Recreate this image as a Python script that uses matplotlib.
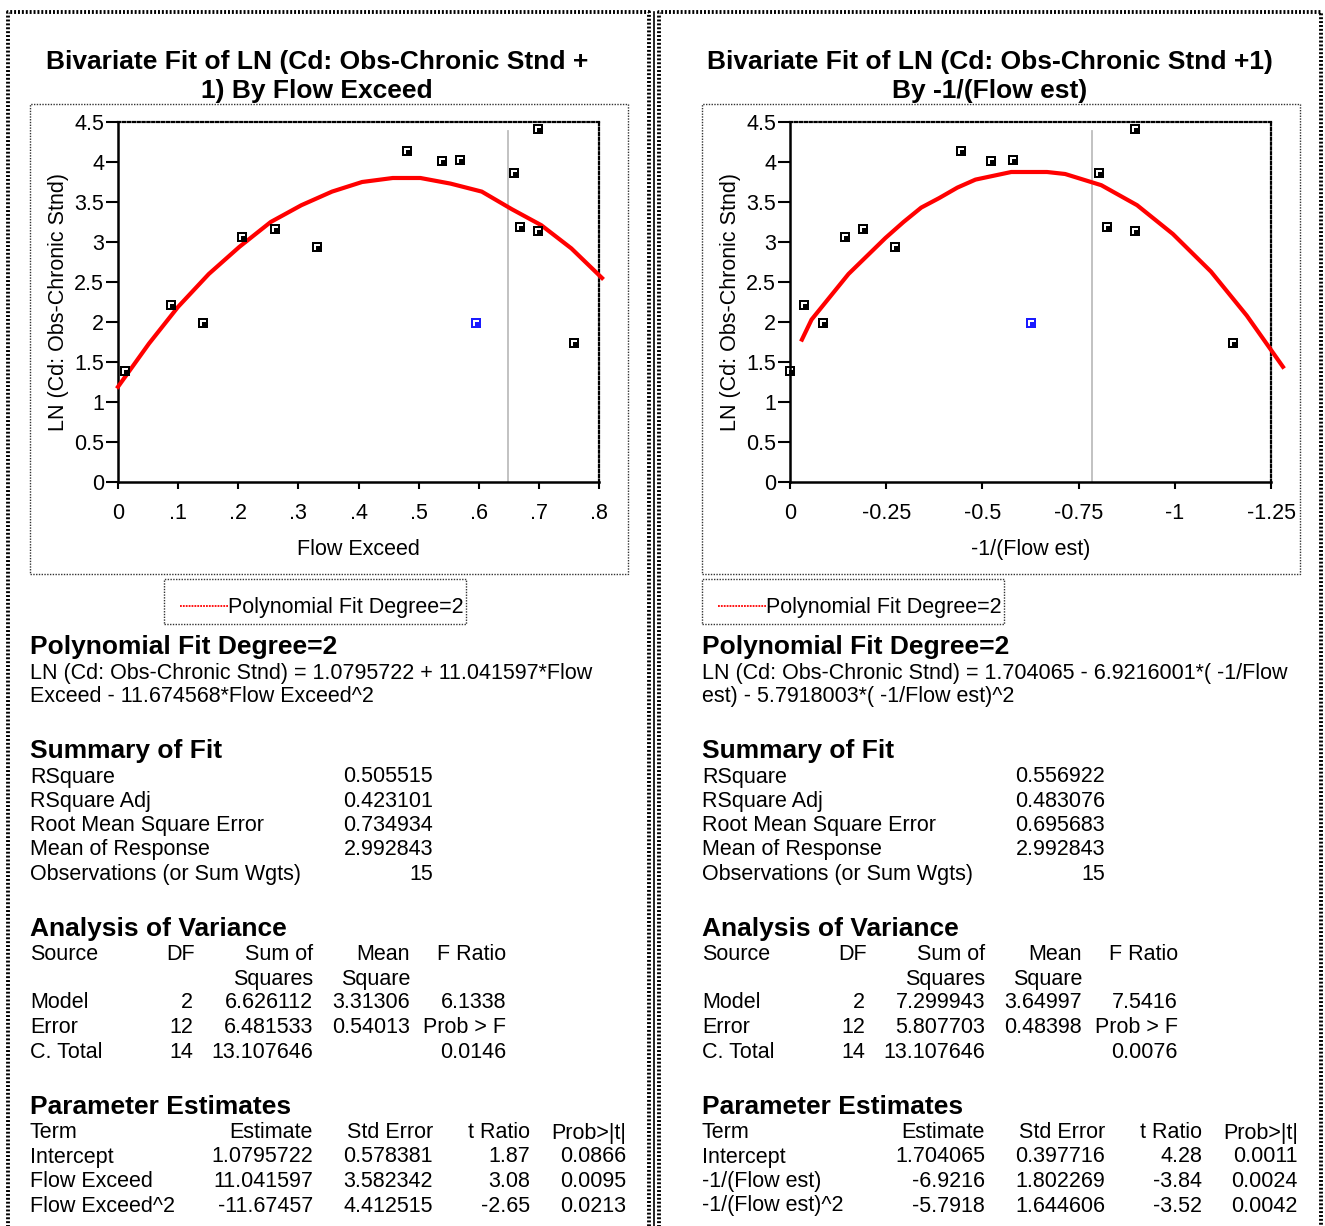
import numpy as np
import matplotlib
matplotlib.use('Agg')
import matplotlib.pyplot as plt
from matplotlib.lines import Line2D
from matplotlib.patches import Rectangle
from matplotlib.path import Path

plt.rcParams['font.family'] = ['Liberation Sans', 'DejaVu Sans']

W, H = 1325, 1226

# ---- points ----
flow_exceed = [0.012, 0.088, 0.141, 0.207, 0.261, 0.331, 0.480, 0.539, 0.569,
               0.659, 0.669, 0.698, 0.698, 0.759]
neg_inv_flow = [0.0, -0.037, -0.086, -0.143, -0.189, -0.272, -0.444, -0.523, -0.580,
                -0.803, -0.824, -0.897, -0.897, -1.152]
ln_cd = [1.39, 2.21, 1.99, 3.06, 3.16, 2.94, 4.14, 4.01, 4.03,
         3.86, 3.19, 4.41, 3.14, 1.74]
# the highlighted (blue) row
sel_flow_exceed = [0.596]
sel_neg_inv_flow = [-0.626]
sel_ln_cd = [1.99]

# reference lines
ref_flow_exceed = 0.648
ref_neg_inv_flow = -0.786

# fitted curves (polyline vertices as drawn)
fit_left_x = [0.0, 0.0515, 0.10, 0.151, 0.202, 0.254, 0.305, 0.356, 0.406, 0.457,
              0.503, 0.553, 0.605, 0.655, 0.704, 0.754, 0.805]
fit_left_y = [1.19, 1.73, 2.19, 2.60, 2.94, 3.25, 3.46, 3.63, 3.75, 3.80,
              3.80, 3.73, 3.63, 3.41, 3.21, 2.92, 2.55]
fit_right_x = [-0.031, -0.056, -0.152, -0.248, -0.295, -0.341, -0.388, -0.435, -0.482,
               -0.575, -0.668, -0.715, -0.809, -0.902, -0.995, -1.094, -1.187, -1.281]
fit_right_y = [1.78, 2.03, 2.60, 3.05, 3.25, 3.43, 3.55, 3.68, 3.78,
               3.875, 3.875, 3.85, 3.71, 3.46, 3.10, 2.63, 2.08, 1.44]

left_xticks = [0, .1, .2, .3, .4, .5, .6, .7, .8]
left_xticklabels = ['0', '.1', '.2', '.3', '.4', '.5', '.6', '.7', '.8']
right_xticks = [0, -0.25, -0.5, -0.75, -1, -1.25]
right_xticklabels = ['0', '-0.25', '-0.5', '-0.75', '-1', '-1.25']
yticks = [0, 0.5, 1, 1.5, 2, 2.5, 3, 3.5, 4, 4.5]
yticklabels = ['0', '0.5', '1', '1.5', '2', '2.5', '3', '3.5', '4', '4.5']

# ---- report tables ----
titles = [['Bivariate Fit of LN (Cd: Obs-Chronic Stnd +', '1) By Flow Exceed'],
          ['Bivariate Fit of LN (Cd: Obs-Chronic Stnd +1)', 'By -1/(Flow est)']]
xlabels = ['Flow Exceed', '-1/(Flow est)']
equations = [['LN (Cd: Obs-Chronic Stnd) = 1.0795722 + 11.041597*Flow',
              'Exceed - 11.674568*Flow Exceed^2'],
             ['LN (Cd: Obs-Chronic Stnd) = 1.704065 - 6.9216001*( -1/Flow',
              'est) - 5.7918003*( -1/Flow est)^2']]

summary_labels = ['RSquare', 'RSquare Adj', 'Root Mean Square Error',
                  'Mean of Response', 'Observations (or Sum Wgts)']
summary_vals = [['0.505515', '0.423101', '0.734934', '2.992843', '15'],
                ['0.556922', '0.483076', '0.695683', '2.992843', '15']]

anova_source = ['Model', 'Error', 'C. Total']
anova_df = ['2', '12', '14']
anova_ss = [['6.626112', '6.481533', '13.107646'],
            ['7.299943', '5.807703', '13.107646']]
anova_ms = [['3.31306', '0.54013', ''],
            ['3.64997', '0.48398', '']]
anova_f = [['6.1338', 'Prob > F', '0.0146'],
           ['7.5416', 'Prob > F', '0.0076']]

param_terms = [['Intercept', 'Flow Exceed', 'Flow Exceed^2'],
               ['Intercept', '-1/(Flow est)', '-1/(Flow est)^2']]
param_est = [['1.0795722', '11.041597', '-11.67457'],
             ['1.704065', '-6.9216', '-5.7918']]
param_se = [['0.578381', '3.582342', '4.412515'],
            ['0.397716', '1.802269', '1.644606']]
param_t = [['1.87', '3.08', '-2.65'],
           ['4.28', '-3.84', '-3.52']]
param_p = [['0.0866', '0.0095', '0.0213'],
           ['0.0011', '0.0024', '0.0042']]

fig = plt.figure(figsize=(W / 100, H / 100), dpi=100)

BODY = 15.5
HEAD = 19
DY = 2  # nudge of text rows


def T(x, y, s, **kw):
    kw.setdefault('fontsize', BODY)
    kw.setdefault('va', 'center')
    fig.text(x / W, 1 - (y + DY) / H, s, **kw)


def fline(xs, ys, **kw):
    fig.add_artist(Line2D([x / W for x in xs], [1 - y / H for y in ys],
                          transform=fig.transFigure, **kw))


def frect(x0, y0, x1, y1, **kw):
    fig.add_artist(Rectangle((x0 / W, 1 - y1 / H), (x1 - x0) / W, (y1 - y0) / H,
                             transform=fig.transFigure, fill=False, **kw))


# marker: black square with a white corner inside
outer = [(-1, -1), (1, -1), (1, 1), (-1, 1), (-1, -1)]
hole = [(-0.55, -0.6), (-0.55, 0.55), (0.55, 0.55), (0.55, 0.2), (-0.15, 0.2),
        (-0.15, -0.6), (-0.55, -0.6)]
verts = outer + hole
codes = ([Path.MOVETO] + [Path.LINETO] * 3 + [Path.CLOSEPOLY] +
         [Path.MOVETO] + [Path.LINETO] * 5 + [Path.CLOSEPOLY])
pt_marker = Path(verts, codes)

# ---- page frames ----
dot = dict(color='black', lw=2.8, linestyle=(0, (0.5, 0.5)))
fline([8, 8, 649, 649], [1240, 12, 12, 1240], **dot)
fline([659, 659, 1321, 1321], [1240, 12, 12, 1240], **dot)
fline([654, 654], [12, 1240], color='black', lw=1.2)

panels = [
    dict(off=0, ax=(118, 599), x=flow_exceed, sx=sel_flow_exceed, ref=ref_flow_exceed,
         fx=fit_left_x, fy=fit_left_y, xlim=(0, 0.8), ticks=left_xticks,
         ticklabels=left_xticklabels, leg=(164, 466), tcx=317),
    dict(off=672, ax=(790, 1271), x=neg_inv_flow, sx=sel_neg_inv_flow, ref=ref_neg_inv_flow,
         fx=fit_right_x, fy=fit_right_y, xlim=(0, -1.25), ticks=right_xticks,
         ticklabels=right_xticklabels, leg=(702, 1004), tcx=990),
]

for i, p in enumerate(panels):
    o = p['off']
    # title
    T(p['tcx'], 60, titles[i][0], fontsize=HEAD, fontweight='bold', ha='center')
    T(p['tcx'], 89, titles[i][1], fontsize=HEAD, fontweight='bold', ha='center')

    # outer box around plot
    frect(30 + o, 104, 628 + o, 574, edgecolor='#333333', lw=1.0, linestyle=(0, (1, 1)))

    x0, x1 = p['ax']
    ax = fig.add_axes([x0 / W, 1 - 482 / H, (x1 - x0) / W, 360 / H])
    ax.set_xlim(*p['xlim'])
    ax.set_ylim(0, 4.5)
    ax.axvline(p['ref'], color='#bdbdbd', lw=1.3, ymin=0, ymax=0.975)
    ax.plot(p['fx'], p['fy'], color='#ff0000', lw=3.0, clip_on=False, zorder=3,
            solid_joinstyle='miter')
    ax.plot(p['x'], ln_cd, linestyle='none', marker=pt_marker, ms=7,
            color='black', mew=0, clip_on=False, zorder=4)
    ax.plot(p['sx'], sel_ln_cd, linestyle='none', marker=pt_marker, ms=7,
            color='#1a1aff', mew=0, clip_on=False, zorder=4)
    ax.set_xticks(p['ticks'])
    ax.set_xticklabels(p['ticklabels'])
    ax.set_yticks(yticks)
    ax.set_yticklabels(yticklabels)
    ax.tick_params(axis='x', length=5, width=1.5, labelsize=BODY, pad=10)
    ax.tick_params(axis='y', length=9, width=1.5, labelsize=BODY, pad=1)
    for s in ['left', 'bottom']:
        ax.spines[s].set_linewidth(1.8)
    for s in ['top', 'right']:
        ax.spines[s].set_linewidth(1.6)
        ax.spines[s].set_linestyle((0, (1, 1.2)))
    ax.set_xlabel(xlabels[i], fontsize=BODY, labelpad=11)
    ax.set_ylabel('LN (Cd: Obs-Chronic Stnd)', fontsize=BODY, labelpad=4)

    # legend box
    l0, l1 = p['leg']
    frect(l0, 579, l1, 624, edgecolor='#333333', lw=1.0, linestyle=(0, (1, 1)))
    fline([l0 + 16, l0 + 64], [606, 606], color='#ff0000', lw=1.3, linestyle=(0, (1, 0.6)))
    T(l0 + 64, 606, 'Polynomial Fit Degree=2')

    # fit text
    T(30 + o, 645, 'Polynomial Fit Degree=2', fontsize=HEAD, fontweight='bold')
    T(30 + o, 671, equations[i][0])
    T(30 + o, 695, equations[i][1])

    # summary of fit
    T(30 + o, 749, 'Summary of Fit', fontsize=HEAD, fontweight='bold')
    for k, (lab, val) in enumerate(zip(summary_labels, summary_vals[i])):
        y = 775 + k * 24.3
        T(30 + o, y, lab)
        T(433 + o, y, val, ha='right')

    # analysis of variance
    T(30 + o, 927, 'Analysis of Variance', fontsize=HEAD, fontweight='bold')
    T(30 + o, 953, 'Source')
    T(195 + o, 953, 'DF', ha='right')
    T(313 + o, 953, 'Sum of', ha='right')
    T(313 + o, 977, 'Squares', ha='right')
    T(410 + o, 953, 'Mean', ha='right')
    T(410 + o, 977, 'Square', ha='right')
    T(506 + o, 953, 'F Ratio', ha='right')
    for k in range(3):
        y = 1001 + k * 24.5
        T(30 + o, y, anova_source[k])
        T(193 + o, y, anova_df[k], ha='right')
        T(313 + o, y, anova_ss[i][k], ha='right')
        T(410 + o, y, anova_ms[i][k], ha='right')
        T(506 + o, y, anova_f[i][k], ha='right')

    # parameter estimates
    T(30 + o, 1105, 'Parameter Estimates', fontsize=HEAD, fontweight='bold')
    T(30 + o, 1131, 'Term')
    T(313 + o, 1131, 'Estimate', ha='right')
    T(433 + o, 1131, 'Std Error', ha='right')
    T(530 + o, 1131, 't Ratio', ha='right')
    T(626 + o, 1131, 'Prob>|t|', ha='right')
    for k in range(3):
        y = 1155 + k * 24.5
        T(30 + o, y, param_terms[i][k])
        T(313 + o, y, param_est[i][k], ha='right')
        T(433 + o, y, param_se[i][k], ha='right')
        T(530 + o, y, param_t[i][k], ha='right')
        T(626 + o, y, param_p[i][k], ha='right')

fig.savefig('out.png', dpi=100)
